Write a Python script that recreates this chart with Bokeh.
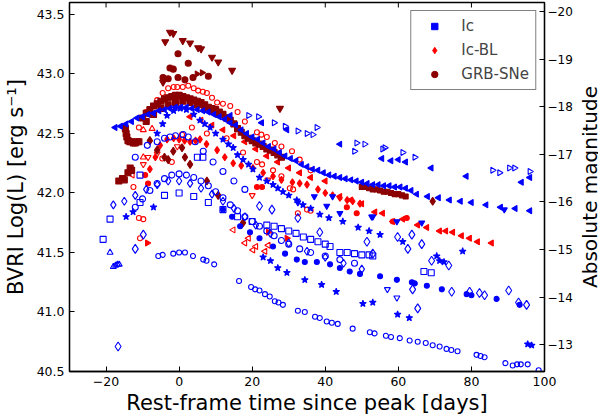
import math

from bokeh.embed import file_html
from bokeh.layouts import row
from bokeh.models import FixedTicker, Legend, LegendItem, LinearAxis, PrintfTickFormatter, Range1d, Title
from bokeh.plotting import figure
from bokeh.resources import INLINE

# ---------------- Ic (blue) ----------------
ic_a_x = [-17.5, -16, -14.5, -13, -11.5, -10, -8.5, -7, -5.5, -4, -2.5, -1, 0.5, 2, 3.5, 5, 6.5, 8, 9.5, 11,
          12.5, 14, 15.5, 17, 18.5, 20, 21.5, 23, 24.5, 26, 27.5, 29, 30.5, 32, 33.5, 35, 36.5, 38, 39.5, 41,
          42.5, 44, 45.5, 47, 48.5, 50, 51.5, 53, 54.5, 56, 57.5, 59, 60.5, 62, 63.5, 65, 68, 71, 74, 77, 80,
          84, 88, 92, 96]
ic_a_y = [42.55, 42.56, 42.58, 42.60, 42.63, 42.64, 42.66, 42.67, 42.69, 42.70, 42.71, 42.72, 42.72, 42.72,
          42.71, 42.70, 42.69, 42.68, 42.66, 42.64, 42.62, 42.59, 42.57, 42.53, 42.50, 42.47, 42.45, 42.42,
          42.39, 42.37, 42.34, 42.31, 42.29, 42.27, 42.24, 42.22, 42.20, 42.19, 42.17, 42.15, 42.14, 42.13,
          42.12, 42.11, 42.10, 42.09, 42.08, 42.07, 42.07, 42.06, 42.06, 42.05, 42.05, 42.04, 42.02, 41.99,
          41.97, 41.96, 41.94, 41.93, 41.92, 41.90, 41.88, 41.87, 41.85]

ic_b_x = [14, 22.6, 29.5, 44, 55.5, 58, 60, 62, 69, 78.6, 93.7, 96]
ic_b_y = [42.65, 42.59, 42.53, 42.41, 42.29, 42.27, 42.28, 42.26, 42.21, 42.14, 42.09, 42.13]

ic_c_x = [19, 21.7, 26, 29, 32.5, 35, 36.6, 37.7, 48, 48.6, 50.8, 55.7, 56.3, 61.2, 64.5, 85.8, 87.7, 90.4,
          91.8, 96]
ic_c_y = [42.65, 42.64, 42.59, 42.56, 42.52, 42.50, 42.49, 42.55, 42.35, 42.42, 42.41, 42.37, 42.38, 42.34,
          42.30, 42.19, 42.17, 42.21, 42.21, 42.18]

ic_d_x = [-6, -4.5, -3.3, -1.5, 0.3, 2, 4, 5.7, 7, 8.5, 10, 12, 13.5, 14.8, 16, 17.5, 19, 20.2, 22, 24, 25.7,
          27, 28.4, 30, 32.2, 33.9, 36, 38.5, 41, 44.8, 49, 52, 55, 61.2, 70.5, 71.3, 72.5, 77.6]
ic_d_y = [42.50, 42.58, 42.65, 42.69, 42.71, 42.70, 42.66, 42.61, 42.58, 42.55, 42.50, 42.45, 42.41, 42.38,
          42.32, 42.28, 42.24, 42.20, 42.13, 42.10, 42.07, 42.04, 42.01, 41.98, 41.94, 41.90, 41.87, 41.82,
          41.79, 41.76, 41.71, 41.68, 41.65, 41.59, 41.47, 41.43, 41.42, 41.51]

ic_e_x = [-12, -10, -8, -6, -4, -2, 0, 2, 4, 6, 8, 10, 12, 14, 16, 18, 20, 22, 24, 26, 28, 30, 33, 36, 40,
          44, 48]
ic_e_y = [41.88, 41.95, 42.02, 42.08, 42.12, 42.15, 42.16, 42.15, 42.13, 42.10, 42.06, 42.01, 41.96, 41.90,
          41.85, 41.80, 41.76, 41.72, 41.68, 41.64, 41.60, 41.57, 41.53, 41.50, 41.47, 41.44, 41.41]

ic_f_x = [-18, -15, -12, -9, -6, -3, 0, 3, 6, 9, 12, 15, 18, 21, 25, 30, 35, 40, 45, 50]
ic_f_y = [41.90, 41.93, 41.98, 42.03, 42.07, 42.10, 42.10, 42.08, 42.04, 41.99, 41.93, 41.87, 41.80, 41.73,
          41.66, 41.58, 41.51, 41.46, 41.41, 41.36]

ic_g_x = [-20.8, -18.9, -10.7, -10.7, -4, 0, 4, 5, 6.5, 8, 12, 16, 20, 24, 26, 28, 30, 32, 34, 36, 38, 40,
          41.3, 44, 46, 48, 50, 52, 53, 67, 69]
ic_g_y = [41.61, 41.78, 41.92, 42.15, 41.98, 42.00, 41.97, 42.30, 42.30, 41.92, 41.86, 41.80, 41.76, 41.73,
          41.72, 41.70, 41.68, 41.66, 41.63, 41.61, 41.59, 41.57, 41.55, 41.50, 41.50, 41.49, 41.48, 41.48,
          41.47, 41.34, 41.33]

ic_h_x = [-14.5, -12.6, -7, 23, 25, 27, 29.5, 34.4, 39, 43, 50.3, 53, 59.8, 63, 95.4, 96.5]
ic_h_y = [41.80, 41.84, 41.88, 41.46, 41.43, 41.37, 41.33, 41.27, 41.23, 41.17, 41.07, 41.08, 40.98, 40.95,
          40.73, 40.72]

ic_i_x = [-5.7, -4.5, -1.6, 0, 1.6, 3.8, 6.6, 7.5, 9.6, 16.4, 19.7, 20.8, 22, 23.5, 24.8, 26.2, 27.2, 28.4,
          32.5, 34.4, 37.2, 38.5, 40.4, 41.8, 43.4, 47.5, 52.2, 53.5, 56.6, 58, 60.4, 63.1, 65.3, 67.5, 69.4,
          71.3, 73.2, 74.5, 76.2, 81.4, 82.5, 83.6, 89.3, 91.3, 92.5, 93.5, 95.4, 98.4]
ic_i_y = [41.47, 41.48, 41.49, 41.50, 41.50, 41.47, 41.44, 41.43, 41.40, 41.26, 41.21, 41.19, 41.18, 41.15,
          41.13, 41.09, 41.08, 41.06, 41.01, 41.00, 40.96, 40.95, 40.92, 40.91, 40.90, 40.86, 40.83, 40.82,
          40.80, 40.79, 40.78, 40.76, 40.75, 40.74, 40.72, 40.71, 40.69, 40.68, 40.67, 40.64, 40.63, 40.62,
          40.57, 40.55, 40.56, 40.56, 40.56, 40.51]

ic_j_x = [-18.9, -18, -17.4, -16.9, -16.4]
ic_j_y = [41.50, 41.38, 41.39, 41.40, 41.40]

ic_k_x = [12, 14.5, 16.7, 19.4, 22, 25.7, 29, 32.2, 34.4, 37.7, 41.3, 44, 46.7, 49.5, 55, 59.6, 63.7, 64.5,
          67.8, 71.9, 78.7, 80, 86.9, 93.2]
ic_k_y = [41.86, 41.80, 41.72, 41.67, 41.62, 41.55, 41.49, 41.44, 41.42, 41.42, 41.40, 41.37, 41.34, 41.32,
          41.30, 41.27, 41.25, 41.24, 41.22, 41.19, 41.15, 41.14, 41.11, 41.06]

ic_l_x = [22, 25.4, 32.5, 38.5, 51.4, 53, 59.8, 62.6, 63.7, 66.4, 69.1, 73.8, 63.9, 65.3, 74.6, 79.5, 82.2,
          83.6, 90.2, 92.9, 95.1, -9.8, -12, -16.7]
ic_l_y = [41.89, 41.86, 41.79, 41.67, 41.59, 41.49, 41.63, 41.53, 41.65, 41.57, 41.43, 41.39, 41.19, 41.03,
          41.17, 41.17, 41.16, 41.14, 41.18, 41.08, 41.06, 41.65, 41.53, 40.71]

ic_m_x = [57, 59.6]
ic_m_y = [41.19, 41.12]

ic_n_x = [32.5, 37, 40.4, 42, 44, 52.7, 53, 59.6, 66.4, 89]
ic_n_y = [41.92, 41.97, 41.89, 41.97, 41.83, 41.80, 41.80, 41.76, 41.75, 41.86]

ic_o_x = [-12, -8.7, -6, -4, -2.5, -1, 1.1, 2.5, 4.4, 6.6, 9.3, 12, 15, 18]
ic_o_y = [42.30, 42.40, 42.43, 42.46, 42.47, 42.48, 42.49, 42.47, 42.43, 42.35, 42.26, 42.18, 42.10, 42.03]

# ---------------- Ic-BL (red) ----------------
bl_a_x = [-11, -9, -6, -4.5, -3, -1.5, -0.5, 1, 2.5, 4, 5.2, 6.5, 7.6, 9, 10.4, 12, 14, 16, 18, 21.3, 22.5,
          24, 26.2, 28, 30.9, 33, 36]
bl_a_y = [42.55, 42.68, 42.78, 42.84, 42.88, 42.89, 42.89, 42.89, 42.90, 42.88, 42.86, 42.85, 42.84, 42.80,
          42.76, 42.75, 42.73, 42.68, 42.60, 42.51, 42.49, 42.47, 42.42, 42.39, 42.35, 42.28, 42.19]

bl_b_x = [3, 6, 9, 12, 15, 18, 21, 24, 27, 30, 33, 36, 40, 44, 47, 50, 53.6, 55.7, 58.5, 61.2, 65.3, 67.8,
          71.3, 73, 74.9, 77.3, 79.5, 81.7, 85.5]
bl_b_y = [42.64, 42.61, 42.57, 42.53, 42.48, 42.43, 42.37, 42.31, 42.26, 42.21, 42.17, 42.13, 42.10, 41.97,
          41.94, 41.91, 41.84, 41.83, 41.76, 41.78, 41.73, 41.71, 41.68, 41.68, 41.67, 41.64, 41.62, 41.59,
          41.58]

bl_c_x = [-8, -6.5, -5.2, -3.3, -1.5, 0, 1.5, 3, 4.5, 5.7, 7.5, 10.4, 12.5, 14.8, 17, 20.2, 23, 25.7, 28,
          31, 33, 35, 38, 40, 42, 44, 46, 47.5, 49.5]
bl_c_y = [42.20, 42.30, 42.40, 42.45, 42.46, 42.45, 42.44, 42.43, 42.44, 42.45, 42.41, 42.36, 42.30, 42.25,
          42.23, 42.21, 42.17, 42.14, 42.11, 42.09, 42.08, 42.07, 42.03, 42.00, 41.98, 41.96, 41.94, 41.93,
          41.91]

bl_d_x = [3.5, 0.8, 7.6, 13, 17.5, 21.3, 22.7, 25.7, 28, 30.3, 31.2, 35, 36, 32.5, -11, -10.7, -9.8, -4.6,
          -2, -12.5]
bl_d_y = [42.55, 42.49, 42.50, 42.46, 42.34, 42.26, 42.24, 42.19, 42.14, 42.04, 42.03, 41.86, 41.85, 41.83,
          41.79, 41.62, 41.78, 42.29, 42.26, 42.05]

bl_e_x = [-12.8, 14.8, 18, 19, 20.2, 21, 23.5, 24.4]
bl_e_y = [42.15, 41.69, 41.58, 41.62, 41.52, 41.55, 41.51, 41.56]

bl_f_x = [-8.7, 24.4, 29.5]
bl_f_y = [41.58, 41.67, 41.62]

bl_g_x = [-9.8, -6, -8.5, -0.5, 24.3, 20]
bl_g_y = [42.24, 42.33, 42.30, 42.39, 42.11, 41.98]

bl_h_x = [-9.8, -7.4, -9.8]
bl_h_y = [42.53, 42.54, 42.30]

bl_i_x = [-8.5, -9.3, 21.3, 22.7, 45.9, 48.6, 58.5, 62.3]
bl_i_y = [42.08, 42.15, 42.05, 42.05, 41.88, 41.83, 41.76, 41.79]

# ---------------- GRB-SNe (dark red) ----------------
grb_a_x = [-3.8, -2.5, -1.6, 1, 3, 5.2, 6, 9, 10.7, 14.5, -4.4, 27.6]
grb_a_y = [43.27, 43.35, 43.34, 43.28, 43.26, 43.22, 43.21, 43.14, 43.10, 43.03, 42.93, 42.71]

grb_b_x = [-0.3, -2.5, -1.6, -0.3, -4.4, -3, 1.6, 3.8, 8, 2.5]
grb_b_y = [43.17, 43.05, 43.04, 42.97, 42.97, 42.96, 42.95, 42.97, 42.98, 43.09]

grb_c_x = [-10, -9, -8, -7, -6, -5, -4, -3, -2, -1, 0, 1, 2, 3, 4, 5, 6, 7, 8, 9, 10, 11, 12, 13, 14, 15,
           16, 17, 18, 19, 20, 21, 22, 23, 24, 25, 26, 27, 28]
grb_c_y = [42.63, 42.67, 42.70, 42.73, 42.75, 42.77, 42.79, 42.80, 42.81, 42.82, 42.82, 42.81, 42.80, 42.79,
           42.78, 42.77, 42.76, 42.74, 42.72, 42.71, 42.70, 42.68, 42.66, 42.63, 42.61, 42.58, 42.54, 42.51,
           42.48, 42.46, 42.44, 42.42, 42.41, 42.39, 42.37, 42.36, 42.34, 42.32, 42.30]

grb_d_x = [-9, -7, -5, -3, -1, 1, 3, 5, 7, 9, 11, 13]
grb_d_y = [42.60, 42.66, 42.71, 42.74, 42.76, 42.77, 42.76, 42.74, 42.71, 42.69, 42.66, 42.63]

grb_e_x = [-14.7, -14.5, -14.3, -14, -13.5, -13, -12.5, -12, -11.5, -11]
grb_e_y = [42.54, 42.50, 42.47, 42.44, 42.43, 42.43, 42.42, 42.42, 42.43, 42.43]

grb_f_x = [-16.5, -15.5, -15, -14, -13.4, -13]
grb_f_y = [42.10, 42.12, 42.11, 42.17, 42.21, 42.19]

grb_g_x = [-8, -6, -1.6, 0.8, 1.6, 3, 7.6, 10.7, 17.5, 69.4, -4, -3]
grb_g_y = [42.44, 42.36, 42.35, 42.38, 42.30, 42.24, 42.10, 41.98, 41.75, 41.93, 42.30, 42.28]

grb_h_x = [50, 51, 52, 53, 54, 55, 56, 57, 58, 59, 60, 61, 62]
grb_h_y = [42.05, 42.05, 42.04, 42.03, 42.03, 42.02, 42.01, 42.01, 42.00, 41.99, 41.99, 41.98, 41.97]

grb_i_x = [4.9, 6.3]
grb_i_y = [43.00, 43.01]

# axes
x_ticks = [-20, 0, 20, 40, 60, 80, 100]
y_ticks = [40.5, 41.0, 41.5, 42.0, 42.5, 43.0, 43.5]
mag_ticks = [-20, -19, -18, -17, -16, -15, -14, -13]

BLUE = "#0000ff"
RED = "#ff0000"
DARKRED = "#8b0000"
LEFT = math.pi / 2
RIGHT = -math.pi / 2
FONT = "DejaVu Sans"


def mag(logl):
    return -2.5 * (logl - 43.525) - 20


y_lo, y_hi = 40.5, 43.6

p = figure(
    frame_width=475,
    frame_height=369,
    x_range=Range1d(-30, 100),
    y_range=Range1d(y_lo, y_hi),
    output_backend="svg",
    toolbar_location=None,
    min_border_left=68,
    min_border_right=20,
    min_border_top=2,
    min_border_bottom=48,
)
p.extra_y_ranges = {"mag": Range1d(mag(y_lo), mag(y_hi))}

# (x, y, marker, angle, color, filled, size)
series = [
    (bl_a_x, bl_a_y, "circle", 0, RED, False, 5),
    (bl_d_x, bl_d_y, "circle", 0, RED, False, 5),
    (bl_b_x, bl_b_y, "triangle", LEFT, RED, True, 6),
    (bl_c_x, bl_c_y, "diamond", 0, RED, True, 7),
    (bl_e_x, bl_e_y, "triangle", LEFT, RED, False, 6),
    (bl_f_x, bl_f_y, "triangle", RIGHT, RED, True, 6),
    (bl_g_x, bl_g_y, "inverted_triangle", 0, RED, False, 6),
    (bl_h_x, bl_h_y, "triangle", 0, RED, False, 6),
    (bl_i_x, bl_i_y, "circle", 0, RED, True, 5),
    (grb_a_x, grb_a_y, "inverted_triangle", 0, DARKRED, True, 7),
    (grb_b_x, grb_b_y, "circle", 0, DARKRED, True, 6),
    (grb_c_x, grb_c_y, "square", 0, DARKRED, True, 6),
    (grb_d_x, grb_d_y, "square", 0, DARKRED, True, 6),
    (grb_e_x, grb_e_y, "square", 0, DARKRED, True, 6),
    (grb_f_x, grb_f_y, "square", 0, DARKRED, True, 6),
    (grb_g_x, grb_g_y, "diamond", 0, DARKRED, True, 8),
    (grb_h_x, grb_h_y, "square", 0, DARKRED, True, 5),
    (grb_i_x, grb_i_y, "triangle", RIGHT, DARKRED, True, 6),
    (ic_a_x, ic_a_y, "triangle", LEFT, BLUE, True, 6),
    (ic_b_x, ic_b_y, "triangle", LEFT, BLUE, True, 6),
    (ic_c_x, ic_c_y, "triangle", RIGHT, BLUE, False, 6),
    (ic_d_x, ic_d_y, "star", 0, BLUE, True, 7),
    (ic_e_x, ic_e_y, "circle", 0, BLUE, False, 6),
    (ic_f_x, ic_f_y, "diamond", 0, BLUE, False, 8),
    (ic_g_x, ic_g_y, "square", 0, BLUE, False, 6),
    (ic_h_x, ic_h_y, "star", 0, BLUE, True, 7),
    (ic_i_x, ic_i_y, "circle", 0, BLUE, False, 5),
    (ic_j_x, ic_j_y, "triangle", 0, BLUE, False, 6),
    (ic_k_x, ic_k_y, "circle", 0, BLUE, True, 5),
    (ic_l_x, ic_l_y, "diamond", 0, BLUE, False, 9),
    (ic_m_x, ic_m_y, "inverted_triangle", 0, BLUE, False, 6),
    (ic_n_x, ic_n_y, "inverted_triangle", 0, BLUE, True, 6),
    (ic_o_x, ic_o_y, "circle", 0, BLUE, False, 6),
]

for xs, ys, marker, ang, col, filled, size in series:
    p.scatter(
        xs, ys, marker=marker, angle=ang, size=size,
        line_color=col, line_width=1.1,
        fill_color=col if filled else None,
    )

# legend-only glyphs (NaN points are never drawn on the plot)
nan = [float("nan")]
leg_ic = p.scatter(nan, nan, marker="square", size=6, color=BLUE)
leg_bl = p.scatter(nan, nan, marker="diamond", size=8, color=RED)
leg_grb = p.scatter(nan, nan, marker="circle", size=5, color=DARKRED)
legend = Legend(
    items=[
        LegendItem(label="Ic", renderers=[leg_ic]),
        LegendItem(label="Ic-BL", renderers=[leg_bl]),
        LegendItem(label="GRB-SNe", renderers=[leg_grb]),
    ],
    location="top_right",
    margin=8,
    padding=6,
    spacing=6,
    glyph_width=34,
    glyph_height=16,
    label_standoff=10,
    label_text_font=FONT,
    label_text_font_size="15px",
    border_line_color="black",
    border_line_width=1,
    background_fill_alpha=1,
)
p.add_layout(legend)

# top ticks (no labels), drawn inward from the top edge
tick_len = 5 * (y_hi - y_lo) / 369
p.segment(x0=x_ticks, y0=[y_hi] * len(x_ticks), x1=x_ticks, y1=[y_hi - tick_len] * len(x_ticks),
          line_color="black", line_width=1)

# bottom axis
xa = p.xaxis[0]
xa.ticker = FixedTicker(ticks=x_ticks)
xa.major_label_overrides = {t: str(t).replace("-", "\u2212") for t in x_ticks}
xa.axis_label = "Rest-frame time since peak [days]"

# left axis
ya = p.yaxis[0]
ya.ticker = FixedTicker(ticks=y_ticks)
ya.formatter = PrintfTickFormatter(format="%.1f")
ya.axis_label = "BVRI Log(L) [erg s\u207b\u00b9]"

# right axis in absolute magnitude (its title sits in a slim strip beside the plot)
right = LinearAxis(y_range_name="mag", ticker=FixedTicker(ticks=mag_ticks))
right.major_label_overrides = {t: str(t).replace("-", "\u2212") for t in mag_ticks}
p.add_layout(right, "right")

for ax in [xa, ya, right]:
    ax.major_tick_in = 5
    ax.major_tick_out = 0
    ax.minor_tick_line_color = None
    ax.major_tick_line_color = "black"
    ax.axis_line_color = "black"
    ax.axis_line_width = 1.3
    ax.major_label_text_font = FONT
    ax.major_label_text_color = "black"
    ax.major_label_text_font_size = "12.5px"
    ax.major_label_standoff = 5
    ax.axis_label_text_font = FONT
    ax.axis_label_text_font_style = "normal"
    ax.axis_label_text_color = "black"
    ax.axis_label_text_font_size = "21px"
right.major_label_text_font_size = "12px"
right.major_label_standoff = 3
xa.axis_label_standoff = 2
ya.axis_label_standoff = 6

p.grid.visible = False
p.outline_line_color = "black"
p.outline_line_width = 1.3
p.background_fill_color = "white"
p.border_fill_color = "white"

# slim strip holding the right-hand title, reading bottom to top
q = figure(
    frame_width=1,
    frame_height=369,
    output_backend="svg",
    toolbar_location=None,
    x_axis_location=None,
    y_axis_location=None,
    min_border_left=0,
    min_border_right=4,
    min_border_top=2,
    min_border_bottom=48,
)
q.grid.visible = False
q.outline_line_color = None
q.border_fill_color = "white"
q.add_layout(Title(text="Absolute magnitude", align="center", text_font=FONT, text_font_size="20px",
                   text_font_style="normal", text_color="black", standoff=0, offset=0,
                   text_line_height=1.2), "left")

open("out.html", "w").write(file_html(row(p, q), INLINE))
